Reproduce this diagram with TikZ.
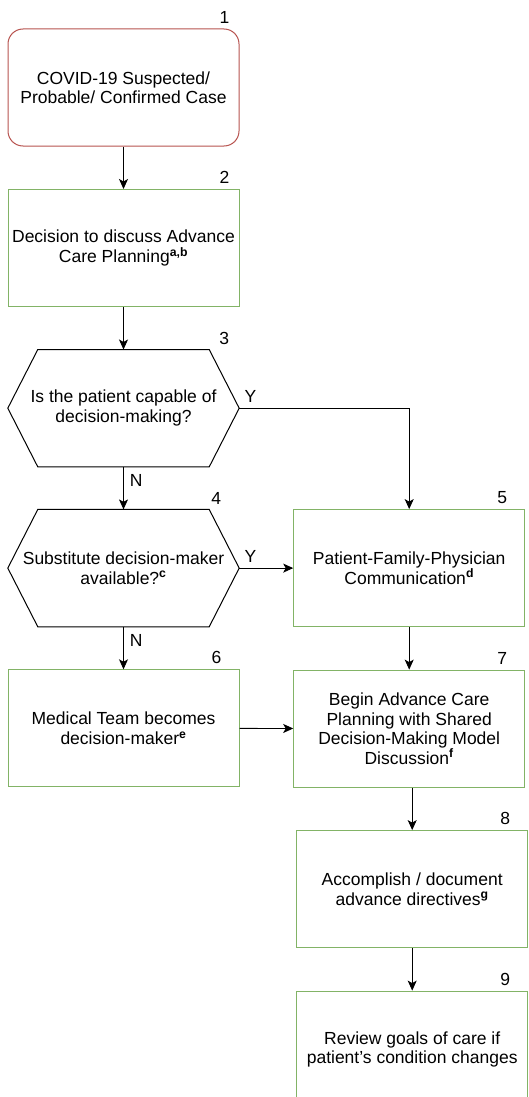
\documentclass[tikz,border=0pt]{standalone}
\usepackage{fontspec}
\setmainfont{Liberation Sans}
\usetikzlibrary{positioning,arrows.meta}
\definecolor{redline}{HTML}{B85450}
\definecolor{greenline}{HTML}{82B366}

\begin{document}
\begin{tikzpicture}[
    x=1pt, y=-1pt,
    every node/.style={
        font=\fontsize{17.5}{19.5}\selectfont,
        align=center,
    },
    node distance=42.5pt,
    box/.style={
        draw=greenline,
        line width=1pt,
        fill=white,
        minimum width=231pt,
        minimum height=117pt,
    },
    startbox/.style={
        box,
        draw=redline,
        rounded corners=15pt,
    },
    question/.style={
        minimum width=231pt,
        minimum height=117pt,
        inner sep=1pt,
    },
    numlab/.style={
        anchor=south east,
        inner sep=0pt,
        xshift=-18pt,
        yshift=5pt,
    },
    yn/.style={
        inner sep=0pt,
    },
    arr/.style={
        -{Stealth[length=10pt,width=9pt,inset=2.5pt]},
        line width=0.9pt,
    },
  ]
  \useasboundingbox (0,0) rectangle (529,1097);
  \clip (0,0) rectangle (529,1097);

  \node [startbox, label={[numlab,xshift=8pt]north east:1}] (b1) at (123.5,87.5)
    {COVID-19 Suspected/\\Probable/ Confirmed Case};
  \node [box, below=of b1, label={[numlab,xshift=8pt]north east:2}] (b2)
    {Decision to discuss Advance\\Care Planning\textsuperscript{\textbf{a,b}}};
  \node [question, below=of b2, label={[numlab,xshift=8pt]north east:3}] (q3)
    {Is the patient capable of\\decision-making?};
  \node [question, below=of q3, label={[numlab]north east:4}] (q4)
    {Substitute decision-maker\\available?\textsuperscript{\textbf{c}}};
  \node [box, below=of q4, label={[numlab]north east:6}] (b6)
    {Medical Team becomes\\decision-maker\textsuperscript{\textbf{e}}};
  \node [box, right=54pt of q4, label={[numlab]north east:5}] (b5)
    {Patient-Family-Physician\\Communication\textsuperscript{\textbf{d}}};
  \node [box, below=of b5, label={[numlab]north east:7}] (b7)
    {Begin Advance Care\\Planning with Shared\\Decision-Making Model\\Discussion\textsuperscript{\textbf{f}}};
  \node [box, below=of b7, xshift=3pt, label={[numlab]north east:8}] (b8)
    {Accomplish / document\\advance directives\textsuperscript{\textbf{g}}};
  \node [box, below=of b8, label={[numlab]north east:9}] (b9)
    {Review goals of care if\\patient's condition changes};

  \foreach \q in {q3,q4}
    \draw [line width=1pt] (\q.west) -- ([xshift=30pt]\q.north west)
      -- ([xshift=-30pt]\q.north east) -- (\q.east)
      -- ([xshift=-30pt]\q.south east) -- ([xshift=30pt]\q.south west) -- cycle;

  \draw [arr] (b1) -- (b2);
  \draw [arr] (b2) -- (q3);
  \draw [arr] (q3.east) -| node [yn, pos=0, anchor=south west, xshift=5pt, yshift=5pt] {Y} (b5);
  \draw [arr] (q3) -- node [yn, pos=0, anchor=north west, xshift=6pt, yshift=-7pt] {N} (q4);
  \draw [arr] (q4.east) -- node [yn, pos=0, anchor=south west, xshift=5pt, yshift=5pt] {Y} (b5);
  \draw [arr] (q4) -- node [yn, pos=0, anchor=north west, xshift=6pt, yshift=-7pt] {N} (b6);
  \draw [arr] (b5) -- (b7);
  \draw [arr] (b6) -- (b7);
  \draw [arr] (b7.south -| b8) -- (b8);
  \draw [arr] (b8) -- (b9);
\end{tikzpicture}
\end{document}
